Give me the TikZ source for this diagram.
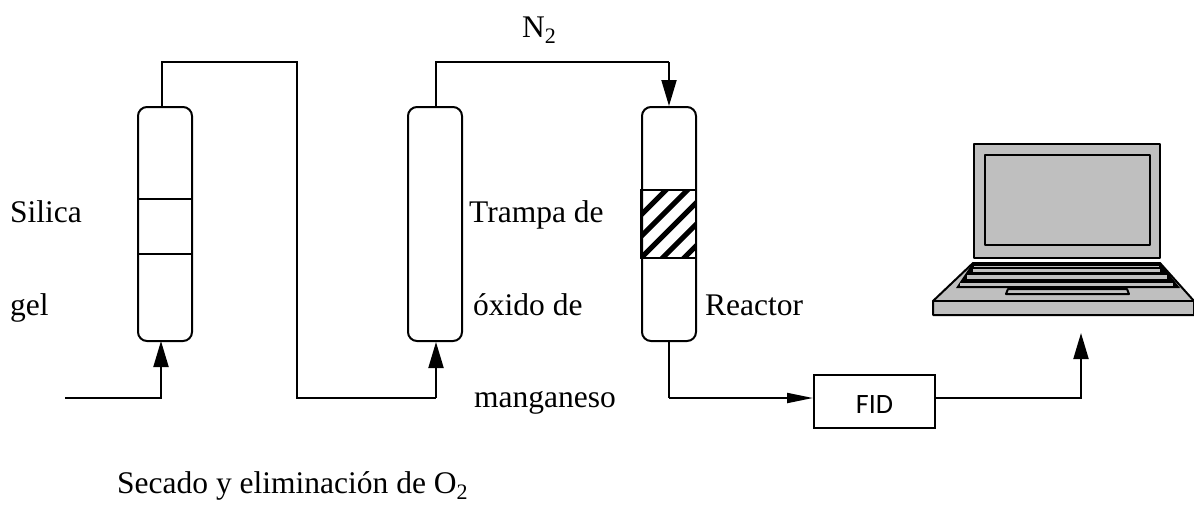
\documentclass[tikz,border=0pt]{standalone}
\usepackage{fontspec}
\setmainfont{Liberation Serif}
\newfontfamily\fidfont{Carlito}
\usepackage{tikz}
\usetikzlibrary{arrows.meta}
\definecolor{lidgray}{RGB}{191, 191, 191}
\tikzset{
    column/.style={draw,line width=2pt,rounded corners=9pt},
    pipe/.style={line width=2pt},
    flow/.style={line width=2pt,-{Triangle[length=26pt,width=15pt]}},
    flatflow/.style={line width=2pt,-{Triangle[length=26pt,width=10pt]}},
    label/.style={font=\fontsize{31.5}{36}\selectfont,inner sep=0pt,anchor=base west},
    lid/.style={draw,line width=2pt,fill=lidgray,line join=round}
}

\begin{document}
\begin{tikzpicture}[x=1pt,y=-1pt]
        \useasboundingbox (0,0) rectangle (1194,504);

        \node[column,minimum width=54pt,minimum height=234pt] (silica) at (165,224){};
        \node[column,minimum width=54pt,minimum height=234pt] (trampa) at (435,224){};
        \node[column,minimum width=54pt,minimum height=234pt] (reactor) at (669,224){};
        \node[draw,line width=2pt,minimum width=121pt,minimum height=53pt,text height=23pt,text depth=0pt,font=\fidfont\fontsize{28}{32}\selectfont] (fid) at (874.5,401.5){FID};

        \coordinate (inlet) at (65,398);
        \coordinate (outlet) at (1081,333);
        \coordinate (s1) at (161,398);
        \coordinate (s2) at (162,62);
        \coordinate (s3) at (297,62);
        \coordinate (s4) at (297,398);
        \coordinate (s5) at (436,398);
        \coordinate (t1) at (436,62);
        \coordinate (t2) at (669,62);
        \coordinate (r1) at (669,398);
        \coordinate (f1) at (1081,398);

        % silica bands
        \draw[pipe] (silica.west |- 0,199) -- (silica.east |- 0,199);
        \draw[pipe] (silica.west |- 0,254) -- (silica.east |- 0,254);

        % catalyst bed
        \coordinate (bed1) at (641,190);
        \coordinate (bed2) at (696,258);
        \begin{scope}
            \clip (bed1) rectangle (bed2);
            \foreach \i in {0,...,5}
                \draw[line width=5pt] (600,256+\i*21.5) -- (720,136+\i*21.5);
        \end{scope}
        \draw[pipe] (bed1) rectangle (bed2);

        % lines between the columns
        \draw[flow] (inlet) -- (s1) -- (161,341);
        \draw[pipe] (silica.north -| s2) -- (s2) -- (s3) -- (s4) -- (s5);
        \draw[flow] (s5) -- (trampa.south -| s5);
        \draw[pipe] (trampa.north -| t1) -- (t1) -- (t2);
        \draw[flow] (t2) -- (reactor.north);
        \draw[pipe] (reactor.south) -- (r1);
        \draw[flatflow] (r1) -- (fid.west |- r1);
        \draw[flow] (fid.east |- f1) -- (f1) -- (outlet);

        % laptop
        \draw[lid] (974,144) rectangle (1160,258);
        \draw[lid] (985,155) rectangle (1150,245);
        \draw[lid] (973,263) -- (1160,263) -- (1194,301) -- (1194,315) -- (933,315) -- (933,301) -- cycle;
        \draw[line width=2pt] (933,301) -- (1194,301);
        \fill (972,264) -- (1161,264) -- (1180,288) -- (956,288) -- cycle;
        \fill[lidgray] (974,265.5) rectangle (1159,267);
        \fill[lidgray] (973,269) rectangle (1160,272);
        \fill[lidgray] (967,275) rectangle (1167,278.5);
        \fill[lidgray] (960,283) rectangle (1173,286);
        \draw[lid] (1008,289) -- (1127,289) -- (1129,294) -- (1006,294) -- cycle;

        % labels
        \node[label] (n2) at (522,37) {N\textsubscript{2}};
        \node[label] (sil) at (10,222) {Silica};
        \node[label] (gel) at (10,315) {gel};
        \node[label] (tra) at (469,222) {Trampa de};
        \node[label] (oxi) at (473,315) {óxido de};
        \node[label] (man) at (474,407) {manganeso};
        \node[label] (rea) at (705,315) {Reactor};
        \node[label] (sec) at (117,493) {Secado y eliminación de O\textsubscript{2}};
    \end{tikzpicture}
\end{document}
